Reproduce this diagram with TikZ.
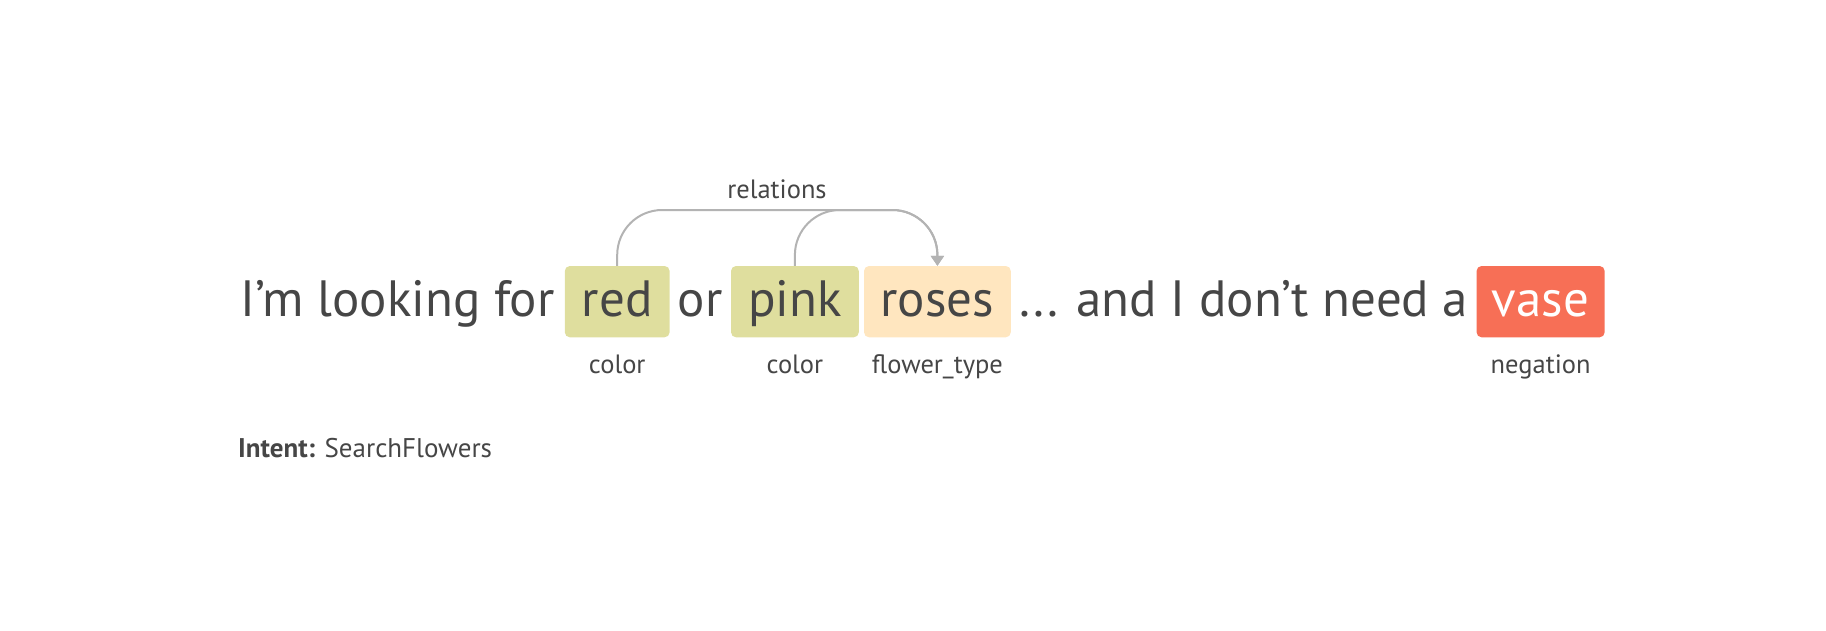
\documentclass[tikz,border=0pt]{standalone}
\usepackage{fontspec}
\setmainfont{PT Sans}
\definecolor{FlowText}{HTML}{464646}
\definecolor{FlowArc}{HTML}{B3B3B3}
\definecolor{FlowOlive}{HTML}{DFDE9E}
\definecolor{FlowCream}{HTML}{FFE6BF}
\definecolor{FlowCoral}{HTML}{F76F56}
\usetikzlibrary{arrows.meta,positioning,calc}
\tikzset{
  word/.style={anchor=base, inner sep=0pt, text=FlowText, font=\fontsize{51}{60}\selectfont},
  chip/.style={word, rounded corners=5pt, text height=50pt, text depth=21.3pt, align=center},
  colorchip/.style={chip, fill=FlowOlive},
  flowerchip/.style={chip, fill=FlowCream},
  negchip/.style={chip, fill=FlowCoral, text=white},
  tag/.style={anchor=base, inner sep=0pt, text=FlowText, font=\fontsize{26.5}{30}\selectfont},
  rel/.style={-{Triangle[length=10pt,width=13pt]}, line width=2pt, FlowArc, rounded corners=45pt}
}
\begin{document}
\begin{tikzpicture}[x=1pt, y=-1pt]
  \useasboundingbox (0,0) rectangle (1826,630);
  % the sentence
  \node[colorchip, minimum width=104.8pt] (red) at (617.2,316) {red};
  \node[colorchip, minimum width=127.8pt] (pink) at (794.9,316) {pink};
  \node[flowerchip, minimum width=146.8pt] (roses) at (937.4,316) {roses};
  \node[negchip, minimum width=128.1pt] (vase) at (1540.6,316) {vase};
  \node[word, anchor=base east] (start) at ($(red.base west)+(-10,0)$) {I’m looking for};
  \node[word] (or) at ($(red.base east)!0.5!(pink.base west)$) {or};
  \node[word] (rest) at ($(roses.base east)!0.5!(vase.base west)$) {... and I don’t need a};
  % entity labels
  \coordinate (tagline) at (0,373);
  \node[tag] (redtag) at (red |- tagline) {color};
  \node[tag] (pinktag) at (pink |- tagline) {color};
  \node[tag] (rosestag) at (roses |- tagline) {flower\_type};
  \node[tag] (vasetag) at (vase |- tagline) {negation};
  % relations
  \coordinate (arctop) at (777,210);
  \node[tag] (relations) at (777,198) {relations};
  \draw[rel] (red.north) |- (arctop) -| (roses.north);
  \draw[rel] (pink.north) |- (roses.north |- arctop) -- (roses.north);
  % intent
  \node[tag, anchor=base west, font=\fontsize{27}{32}\selectfont] (intent) at (238,457) {\textbf{Intent:} SearchFlowers};
\end{tikzpicture}
\end{document}
